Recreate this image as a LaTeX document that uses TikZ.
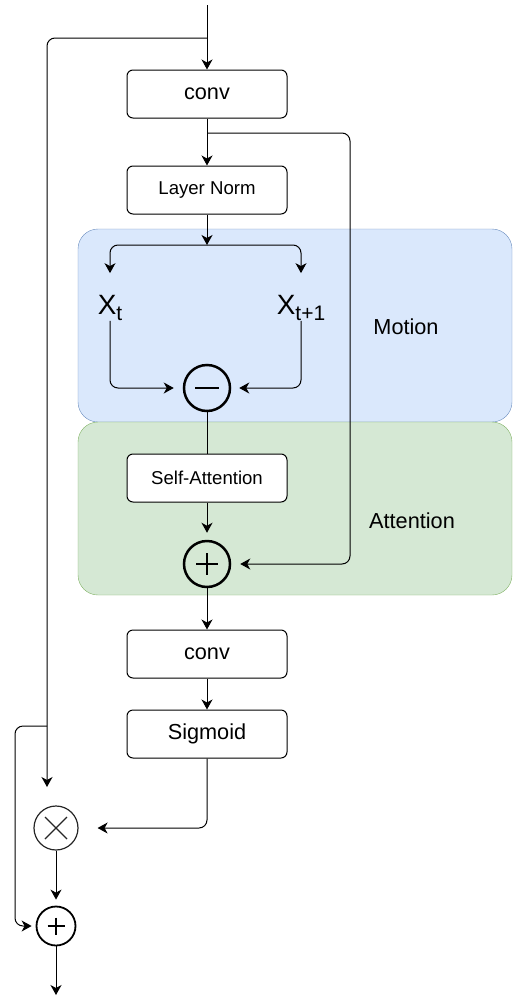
\documentclass[tikz,border=0pt]{standalone}
\usepackage{fontspec}
\setmainfont{Liberation Sans}
\usetikzlibrary{arrows.meta}

\definecolor{motionfill}{HTML}{DAE8FC}
\definecolor{motiondraw}{HTML}{6C8EBF}
\definecolor{attnfill}{HTML}{D5E8D4}
\definecolor{attndraw}{HTML}{82B366}

\tikzset{
    blk/.style={draw, fill=white, rounded corners=6pt, minimum width=160pt, minimum height=48pt,
        inner sep=0pt, line width=1pt, font=\fontsize{21.7}{26}\selectfont},
    smallblk/.style={blk, font=\fontsize{18.6}{22}\selectfont},
    arr/.style={-{Stealth[length=10pt,width=11pt,inset=3pt]}, line width=1pt, rounded corners=8pt},
    ln/.style={line width=1pt, rounded corners=8pt},
    bigop/.style={draw, circle, minimum size=46pt, inner sep=0pt, line width=2.5pt},
    grouplabel/.style={font=\fontsize{21.7}{26}\selectfont, inner sep=0pt},
    xlabel/.style={inner sep=0pt, font=\fontsize{27.9}{32}\selectfont},
}

\begin{document}
\begin{tikzpicture}[x=1pt, y=-1pt]
        \useasboundingbox (0,0) rectangle (513,1001);

        % group backgrounds
        \draw[fill=motionfill, draw=motiondraw, rounded corners=20pt] (78,229) rectangle (512,422);
        \draw[fill=attnfill, draw=attndraw, rounded corners=20pt] (78,422) rectangle (512,595);
        \node[grouplabel] (motion) at (406,327) {Motion};
        \node[grouplabel] (attention) at (412,521) {Attention};

        % main column
        \node[blk] (conv1) at (207,94) {conv};
        \node[smallblk] (ln) at (207,190) {Layer Norm};
        \node[xlabel] (xt) at (110,308) {X{\fontsize{21}{24}\selectfont\raisebox{-6pt}{t}}};
        \node[xlabel] (xt1) at (301,308) {X{\fontsize{21}{24}\selectfont\raisebox{-6pt}{t+1}}};
        \node[bigop] (minus) at (207,388) {};
        \draw[line width=2.5pt] (minus) +(-12,0) -- +(12,0);
        \node[smallblk] (sa) at (207,478) {Self-Attention};
        \node[bigop] (add1) at (207,564) {};
        \draw[line width=2.5pt] (add1) +(-11,0) -- +(11,0) (add1) +(0,-11) -- +(0,11);
        \node[blk] (conv2) at (207,654) {conv};
        \node[blk] (sig) at (207,734) {Sigmoid};

        % output ops
        \node[draw=black!85, circle, minimum size=44pt, inner sep=0pt, line width=1.2pt] (mul) at (56,828) {};
        \draw[black!85, line width=1.2pt] (mul) +(-11,-11) -- +(11,11) (mul) +(-11,11) -- +(11,-11);
        \node[draw, circle, minimum size=39pt, inner sep=0pt, line width=1.8pt] (add2) at (56,926) {};
        \draw[line width=1.8pt] (add2) +(-8.5,0) -- +(8.5,0) (add2) +(0,-8.5) -- +(0,8.5);

        \coordinate (in) at (207,5);
        \coordinate (split1) at (207,38);
        \coordinate (split3) at (207,133);
        \coordinate (split4) at (207,245);
        \coordinate (mulin) at (47,787);
        \coordinate (split2) at (47,726);
        \coordinate (out) at (56,995);

        % connectors
        \draw[arr] (in) -- (conv1);
        \draw[arr] (split1) -| (mulin);
        \draw[arr] (conv1) -- (ln);
        \draw[arr] (split3) -- (350,133) |- ([xshift=9pt]add1.east);
        \draw[arr] (ln) -- (split4);
        \draw[arr, shorten >=22pt] (split4) -| (xt);
        \draw[arr, shorten >=22pt] (split4) -| (xt1);
        \draw[arr, shorten >=9pt] (xt) |- (minus);
        \draw[arr, shorten >=8pt] (xt1) |- (minus);
        \draw[ln] (minus) -- (sa);
        \draw[arr, shorten >=7pt] (sa) -- (add1);
        \draw[arr] (add1) -- (conv2);
        \draw[arr] (conv2) -- (sig);
        \draw[arr, shorten >=19pt] (sig) |- (mul);
        \draw[arr, shorten >=6pt] (mul) -- (add2);
        \draw[arr, shorten >=4pt] (split2) -- +(-32,0) |- (add2);
        \draw[arr] (add2) -- (out);
    \end{tikzpicture}
\end{document}
